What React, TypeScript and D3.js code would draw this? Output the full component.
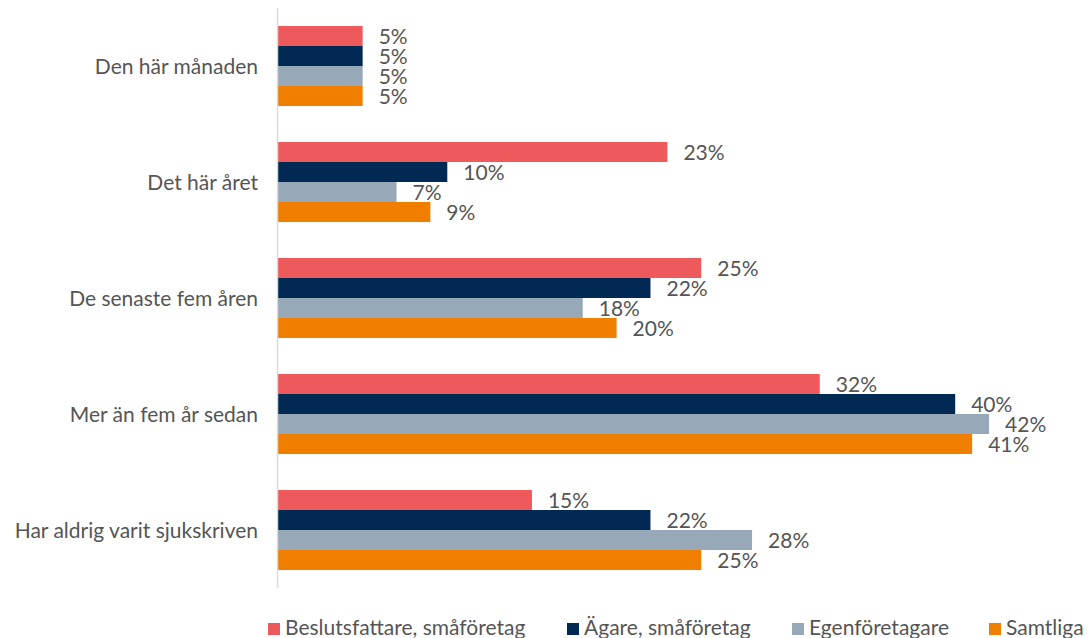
import React from "react";
import * as d3 from "d3";

const categories = [
  "Den här månaden",
  "Det här året",
  "De senaste fem åren",
  "Mer än fem år sedan",
  "Har aldrig varit sjukskriven",
];
const seriesNames = [
  "Beslutsfattare, småföretag",
  "Ägare, småföretag",
  "Egenföretagare",
  "Samtliga",
];
const beslutsfattare = [5, 23, 25, 32, 15];
const agare = [5, 10, 22, 40, 22];
const egenforetagare = [5, 7, 18, 42, 28];
const samtliga = [5, 9, 20, 41, 25];
const seriesValues = [beslutsfattare, agare, egenforetagare, samtliga];
const colors = ["#ee5a5c", "#002a54", "#97a8b8", "#f07f00"];

const W = 1088;
const H = 638;
const X0 = 278;
const PX_PER_PCT = 16.93;
const FONT = "Lato, 'Noto Sans', sans-serif";
const FS = 21;
const TEXT = "#555555";
const legendX = [268, 567, 792, 989];

export default function App() {
  const y = d3
    .scaleBand<string>()
    .domain(categories)
    .range([8, 588])
    .paddingInner(36 / 116)
    .paddingOuter(18 / 116);
  const inner = d3
    .scaleBand<number>()
    .domain(d3.range(seriesNames.length))
    .range([0, y.bandwidth()]);
  const x = d3.scaleLinear().domain([0, 100]).range([X0, X0 + 100 * PX_PER_PCT]);

  return (
    <svg
      width={W}
      height={H}
      style={{ position: "absolute", left: 0, top: 0, display: "block" }}
      fontFamily={FONT}
    >
      <rect width={W} height={H} fill="#fff" />
      {categories.map((c, ci) => (
        <g key={c}>
          <text
            x={258}
            y={(y(c) as number) + y.bandwidth() / 2 + 7.5}
            textAnchor="end"
            fontSize={FS}
            fill={TEXT}
          >
            {c}
          </text>
          {seriesValues.map((vals, si) => {
            const by = (y(c) as number) + (inner(si) as number);
            return (
              <g key={si}>
                <rect
                  x={x(0)}
                  y={by}
                  width={x(vals[ci]) - x(0)}
                  height={inner.bandwidth()}
                  fill={colors[si]}
                />
                <text
                  x={x(vals[ci]) + 16}
                  y={by + inner.bandwidth() / 2 + 7.5}
                  fontSize={FS}
                  fill={TEXT}
                >
                  {vals[ci]}%
                </text>
              </g>
            );
          })}
        </g>
      ))}
      <line x1={277.5} x2={277.5} y1={8} y2={588} stroke="#d9d9d9" strokeWidth={1.5} />
      {seriesNames.map((n, i) => (
        <g key={n}>
          <rect x={legendX[i]} y={623} width={12} height={12} fill={colors[i]} />
          <text x={legendX[i] + 17} y={635} fontSize={FS} fill={TEXT}>
            {n}
          </text>
        </g>
      ))}
    </svg>
  );
}
